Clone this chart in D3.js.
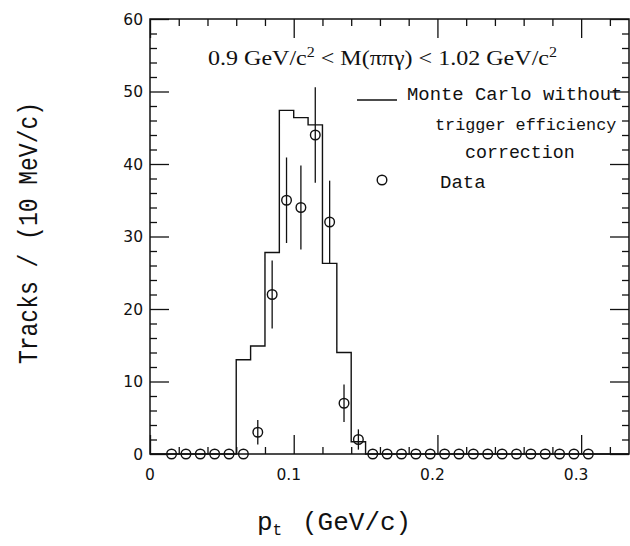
<!DOCTYPE html>
<html>
<head>
<meta charset="utf-8">
<script src="https://cdn.jsdelivr.net/npm/d3@7"></script>
<style>
  html, body { margin: 0; padding: 0; background: #fff; }
  svg { display: block; }
</style>
</head>
<body>
<svg id="chart" width="630" height="546"></svg>
<script>
// ---- Data ----
// Monte Carlo histogram: lower bin edges (GeV/c) and contents (tracks / 10 MeV/c)
const mcBinEdges = [0.00, 0.06, 0.07, 0.08, 0.09, 0.10, 0.11, 0.12, 0.13, 0.14, 0.15, 0.3333];
const mcValues   = [0,    13.0, 14.9, 27.8, 47.4, 46.4, 45.4, 26.3, 14.0, 1.7,  0,    0];

// Data points: bin centres, counts and error half-widths
const dataPt  = [0.015, 0.025, 0.035, 0.045, 0.055, 0.065, 0.075, 0.085, 0.095, 0.105,
                 0.115, 0.125, 0.135, 0.145, 0.155, 0.165, 0.175, 0.185, 0.195, 0.205,
                 0.215, 0.225, 0.235, 0.245, 0.255, 0.265, 0.275, 0.285, 0.295, 0.305];
const dataVal = [0, 0, 0, 0, 0, 0, 3, 22, 35, 34,
                 44, 32, 7, 2, 0, 0, 0, 0, 0, 0,
                 0, 0, 0, 0, 0, 0, 0, 0, 0, 0];
const dataErr = [0, 0, 0, 0, 0, 0, 1.7, 4.7, 5.9, 5.8,
                 6.6, 5.7, 2.6, 1.4, 0, 0, 0, 0, 0, 0,
                 0, 0, 0, 0, 0, 0, 0, 0, 0, 0];

const xMajorTicks = [0, 0.1, 0.2, 0.3];
const xTickLabels = ["0", "0.1", "0.2", "0.3"];
const xMinorTicks = [0.02, 0.04, 0.06, 0.08, 0.12, 0.14, 0.16, 0.18, 0.22, 0.24, 0.26, 0.28, 0.32];
const yMajorTicks = [0, 10, 20, 30, 40, 50, 60];
const yTickLabels = ["0", "10", "20", "30", "40", "50", "60"];
const yMinorStep = 2;

const titleParts = ["0.9 GeV/c", "2", " < M(ππγ) < 1.02 GeV/c", "2"];
const legendMC = ["Monte Carlo without", "trigger efficiency", "correction"];
const legendData = "Data";
const yLabel = "Tracks / (10 MeV/c)";
const xLabelMain = "p", xLabelSub = "t", xLabelUnit = "(GeV/c)";

// ---- Drawing ----
const svg = d3.select("#chart");
const L = 150, R = 629, T = 19, B = 454;
const x = d3.scaleLinear().domain([0, 0.3333]).range([L, R]);
const y = d3.scaleLinear().domain([0, 60]).range([B, T]);

const ink = "#111";
const monoFont = "'Liberation Mono', 'Courier New', monospace";

// frame
svg.append("rect").attr("x", L).attr("y", T).attr("width", R - L).attr("height", B - T)
  .attr("fill", "none").attr("stroke", ink).attr("stroke-width", 1.5);

const MAJ = 19, MIN = 7;
const yMinor = d3.range(0, 60.001, yMinorStep).filter(v => v % 10 !== 0);

// axes via d3 axis generators, ticks drawn inward
function tickAxis(gen, transform) {
  const g = svg.append("g").attr("transform", transform).call(gen);
  g.select(".domain").remove();
  g.selectAll("line").attr("stroke", ink).attr("stroke-width", 1.3);
  g.selectAll("text").remove();
  return g;
}
tickAxis(d3.axisTop(x).tickValues(xMajorTicks).tickSize(MAJ), `translate(0,${B})`);
tickAxis(d3.axisTop(x).tickValues(xMinorTicks).tickSize(MIN), `translate(0,${B})`);
tickAxis(d3.axisBottom(x).tickValues(xMajorTicks).tickSize(MAJ), `translate(0,${T})`);
tickAxis(d3.axisBottom(x).tickValues(xMinorTicks).tickSize(MIN), `translate(0,${T})`);
tickAxis(d3.axisRight(y).tickValues(yMajorTicks).tickSize(MAJ), `translate(${L},0)`);
tickAxis(d3.axisRight(y).tickValues(yMinor).tickSize(MIN), `translate(${L},0)`);
tickAxis(d3.axisLeft(y).tickValues(yMajorTicks).tickSize(MAJ), `translate(${R},0)`);
tickAxis(d3.axisLeft(y).tickValues(yMinor).tickSize(MIN), `translate(${R},0)`);

// tick labels
const tickFont = "'DejaVu Sans', 'Liberation Sans', sans-serif";
svg.append("g").selectAll("text").data(xMajorTicks).join("text")
  .attr("x", (d, i) => x(d) - (i === 0 ? 0 : 5)).attr("y", 480)
  .attr("text-anchor", "middle").attr("font-family", tickFont).attr("font-size", 15.5)
  .attr("font-weight", 500).attr("fill", ink).text((d, i) => xTickLabels[i]);
svg.append("g").selectAll("text").data(yMajorTicks).join("text")
  .attr("x", 143).attr("y", d => y(d) + 5.5)
  .attr("text-anchor", "end").attr("font-family", tickFont).attr("font-size", 15.5)
  .attr("font-weight", 500).attr("fill", ink).text((d, i) => yTickLabels[i]);

// MC histogram (step)
const stepPts = mcBinEdges.map((e, i) => [e, mcValues[i]]);
svg.append("path").datum(stepPts)
  .attr("d", d3.line().x(d => x(d[0])).y(d => y(d[1])).curve(d3.curveStepAfter))
  .attr("fill", "none").attr("stroke", ink).attr("stroke-width", 1.4);

// error bars
svg.append("g").selectAll("line").data(dataPt.map((p, i) => ({p, v: dataVal[i], e: dataErr[i]})).filter(d => d.e > 0))
  .join("line")
  .attr("x1", d => x(d.p)).attr("x2", d => x(d.p))
  .attr("y1", d => y(d.v - d.e)).attr("y2", d => y(d.v + d.e))
  .attr("stroke", ink).attr("stroke-width", 1.3);

// data circles
svg.append("g").selectAll("circle").data(dataPt.map((p, i) => ({p, v: dataVal[i]})))
  .join("circle")
  .attr("cx", d => x(d.p)).attr("cy", d => y(d.v)).attr("r", 4.8)
  .attr("fill", "none").attr("stroke", ink).attr("stroke-width", 1.4);

// title
const title = svg.append("text").attr("x", 208).attr("y", 65)
  .attr("font-family", "'Liberation Serif', 'Times New Roman', serif").attr("font-size", 21)
  .attr("textLength", 349).attr("lengthAdjust", "spacingAndGlyphs")
  .attr("fill", ink);
title.append("tspan").text(titleParts[0]);
title.append("tspan").attr("dy", -8).attr("font-size", 14).text(titleParts[1]);
title.append("tspan").attr("dy", 8).text(titleParts[2]);
title.append("tspan").attr("dy", -8).attr("font-size", 14).text(titleParts[3]);

// legend
svg.append("line").attr("x1", 357).attr("x2", 397).attr("y1", 100).attr("y2", 100)
  .attr("stroke", ink).attr("stroke-width", 1.4);
const legendX = [407, 435, 465];
const legendSize = [18.9, 16.8, 18.3];
const legendY = [100, 130, 158];
svg.append("g").selectAll("text").data(legendMC).join("text")
  .attr("x", (d, i) => legendX[i]).attr("y", (d, i) => legendY[i])
  .attr("font-family", monoFont).attr("font-size", (d, i) => legendSize[i])
  .attr("fill", ink).text(d => d);
svg.append("circle").attr("cx", 382).attr("cy", 180).attr("r", 4.8)
  .attr("fill", "none").attr("stroke", ink).attr("stroke-width", 1.4);
svg.append("text").attr("x", 440).attr("y", 188).attr("font-family", monoFont)
  .attr("font-size", 19).attr("fill", ink).text(legendData);

// axis labels
svg.append("text").attr("transform", "translate(37,233) rotate(-90) scale(1,1.2)")
  .attr("text-anchor", "middle").attr("font-family", monoFont).attr("font-size", 23)
  .attr("fill", ink).text(yLabel);
const xl = svg.append("text").attr("y", 530)
  .attr("font-family", monoFont).attr("font-size", 26).attr("fill", ink);
xl.append("tspan").attr("x", 257).text(xLabelMain);
xl.append("tspan").attr("dy", 5).attr("font-size", 16).text(xLabelSub);
xl.append("tspan").attr("x", 302).attr("dy", -5).text(xLabelUnit);
</script>
</body>
</html>
